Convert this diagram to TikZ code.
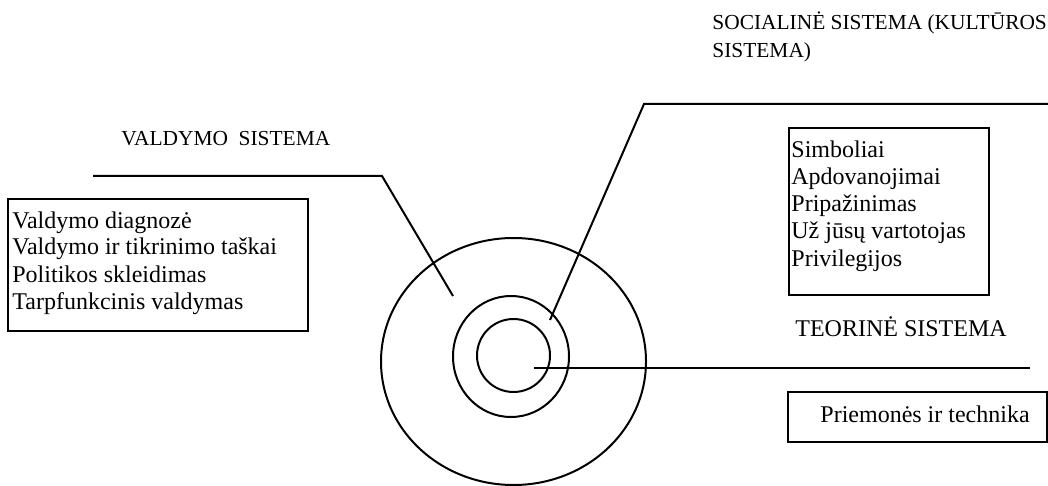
\documentclass[tikz,border=0pt]{standalone}
\usepackage{fontspec}
\setmainfont{Liberation Serif}
\begin{document}
\begin{tikzpicture}[x=0.5pt,y=-0.5pt,
  ln/.style={line width=1pt},
  txt/.style={anchor=base west,inner sep=0pt,font=\fontsize{12}{14}\selectfont},
  lbl/.style={anchor=base west,inner sep=0pt,font=\fontsize{10.7}{13}\selectfont}]
\useasboundingbox (0,0) rectangle (1048,486);
% circles
\draw[ln] (513.5,361.5) ellipse [x radius=66.25pt, y radius=61.75pt];
\draw[ln] (511,356.5) ellipse [x radius=29pt, y radius=30.25pt];
\draw[ln] (513.5,355.5) ellipse [x radius=18.25pt, y radius=18.25pt];
% left box
\draw[ln] (8,199) rectangle (308,331);
\node[txt] (l1) at (12,228) {Valdymo diagnozė};
\node[txt] (l2) at (12,255) {Valdymo ir tikrinimo taškai};
\node[txt] (l3) at (12,282) {Politikos skleidimas};
\node[txt] (l4) at (12,309) {Tarpfunkcinis valdymas};
% right box
\draw[ln] (789,128) rectangle (989,295);
\node[txt] (r1) at (791,158) {Simboliai};
\node[txt] (r2) at (791,185) {Apdovanojimai};
\node[txt] (r3) at (791,212) {Pripažinimas};
\node[txt] (r4) at (791,239) {Už jūsų vartotojas};
\node[txt] (r5) at (791,266) {Privilegijos};
% bottom right box
\draw[ln] (788,392) rectangle (1047,442);
\node[txt] (p1) at (820,422) {Priemonės ir technika};
% labels
\node[lbl] (vs) at (121,146) {VALDYMO\ \ SISTEMA};
\node[lbl] (ss1) at (712,30) {SOCIALINĖ SISTEMA (KULTŪROS};
\node[lbl] (ss2) at (712,58) {SISTEMA)};
\node[lbl,font=\fontsize{12}{14}\selectfont] (ts) at (795,336) {TEORINĖ SISTEMA};
% leader lines
\coordinate (va) at (93,176);
\coordinate (vb) at (382,176);
\coordinate (vc) at (453,296);
\draw[ln] (va) -- (vb) -- (vc);
\coordinate (sa) at (550,320);
\coordinate (sb) at (644,104);
\coordinate (sc) at (1048,104);
\draw[ln] (sa) -- (sb) -- (sc);
\coordinate (ta) at (534,368);
\coordinate (tb) at (1030,368);
\draw[ln] (ta) -- (tb);
\end{tikzpicture}
\end{document}
